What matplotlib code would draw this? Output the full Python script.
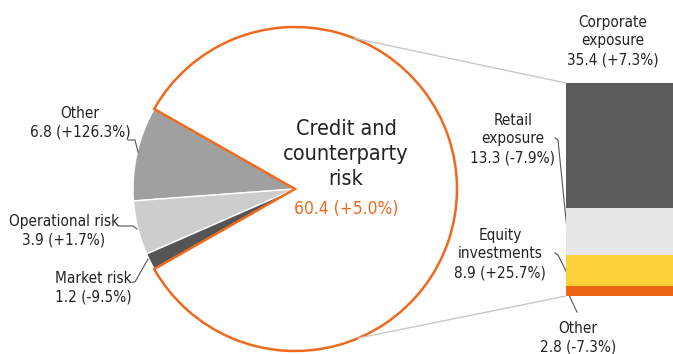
import numpy as np
import matplotlib.pyplot as plt
from matplotlib import font_manager
from matplotlib.patches import ConnectionPatch

# risk-weighted assets by risk type
risk_labels = ["Other", "Operational risk", "Market risk", "Credit and\ncounterparty\nrisk"]
risk_values = [6.8, 3.9, 1.2, 60.4]
risk_changes = ["+126.3%", "+1.7%", "-9.5%", "+5.0%"]

# breakdown of credit and counterparty risk
credit_labels = ["Corporate\nexposure", "Retail\nexposure", "Equity\ninvestments", "Other"]
credit_values = [35.4, 13.3, 8.9, 2.8]
credit_changes = ["+7.3%", "-7.9%", "+25.7%", "-7.3%"]

orange = "#ee6a1e"
pie_colors = ["#a0a0a0", "#cdcdcd", "#555555", "white"]
bar_colors = ["#5a5a5a", "#e6e6e6", "#fdd13a", "#ee6516"]

# pick a narrow face if one is installed
names = {f.name for f in font_manager.fontManager.ttflist}
if "Liberation Sans Narrow" in names:
    plt.rcParams["font.family"] = ["Liberation Sans Narrow", "DejaVu Sans"]
else:
    plt.rcParams["font.family"] = ["DejaVu Sans"]
    plt.rcParams["font.stretch"] = "condensed"

W, H = 673, 354
fig = plt.figure(figsize=(W / 100, H / 100), dpi=100)
ax = fig.add_axes([0, 0, 1, 1])
ax.set_aspect("equal")
ax.axis("off")

cx, cy, r = 295, 165, 162
small = sum(risk_values[:3]) / sum(risk_values) * 360
wedges, _ = ax.pie(risk_values, colors=pie_colors, startangle=180 - small / 2,
                   counterclock=True, center=(cx, cy), radius=r,
                   wedgeprops=dict(edgecolor="white", linewidth=1))
wedges[3].set_edgecolor(orange)
wedges[3].set_linewidth(1.8)
wedges[3].set_zorder(3)
ax.set_xlim(0, W)
ax.set_ylim(0, H)

# stacked bar for the credit breakdown
bax = fig.add_axes([566 / W, 58 / H, 0.2, 213 / H])
bottom = sum(credit_values)
for val, col in zip(credit_values, bar_colors):
    bottom -= val
    bax.bar(0, val, bottom=bottom, width=1, align="edge", color=col, linewidth=0)
bax.set_xlim(0, 1)
bax.set_ylim(0, sum(credit_values))
bax.axis("off")

# lines from the pie to the bar
for ang, yb in [(68.5, sum(credit_values)), (-67, 0)]:
    p = (cx + r * np.cos(np.radians(ang)), cy + r * np.sin(np.radians(ang)))
    con = ConnectionPatch(xyA=p, coordsA=ax.transData, xyB=(0, yb), coordsB=bax.transData,
                          color="#c8c8c8", lw=1)
    fig.add_artist(con)

fs = 11
# center label
ax.text(346, H - 154, risk_labels[3], ha="center", va="center", fontsize=15.5,
        color="#222222", linespacing=1.3)
ax.text(346, H - 209, f"{risk_values[3]} ({risk_changes[3]})", ha="center", va="center",
        fontsize=12.5, color=orange)

# labels of the small slices
pie_pos = [(80, 123), (64, 231), (93, 288)]
for lab, val, chg, (x, y) in zip(risk_labels[:3], risk_values[:3], risk_changes[:3], pie_pos):
    ax.text(x, H - y, f"{lab}\n{val} ({chg})", ha="center", va="center", fontsize=fs,
            color="#222222", linespacing=1.3)

# labels of the bar segments
bar_pos = [(613, 41), (513, 139), (500, 254), (578, 338)]
for lab, val, chg, (x, y) in zip(credit_labels, credit_values, credit_changes, bar_pos):
    ax.text(x, H - y, f"{lab}\n{val} ({chg})", ha="center", va="center", fontsize=fs,
            color="#222222", linespacing=1.3)

# leader lines
leaders = [
    [(128, 140), (135, 140), (138, 152)],
    [(118, 226), (133, 226), (137, 229)],
    [(132, 282), (135, 282), (148, 259)],
    [(555, 138), (558, 140), (567, 230)],
    [(555, 253), (558, 255), (567, 273)],
    [(568, 293), (577, 312)],
]
for pts in leaders:
    xs = [p[0] for p in pts]
    ys = [H - p[1] for p in pts]
    ax.plot(xs, ys, color="#555555", lw=0.8, zorder=4)

fig.savefig("out.png", dpi=100)
